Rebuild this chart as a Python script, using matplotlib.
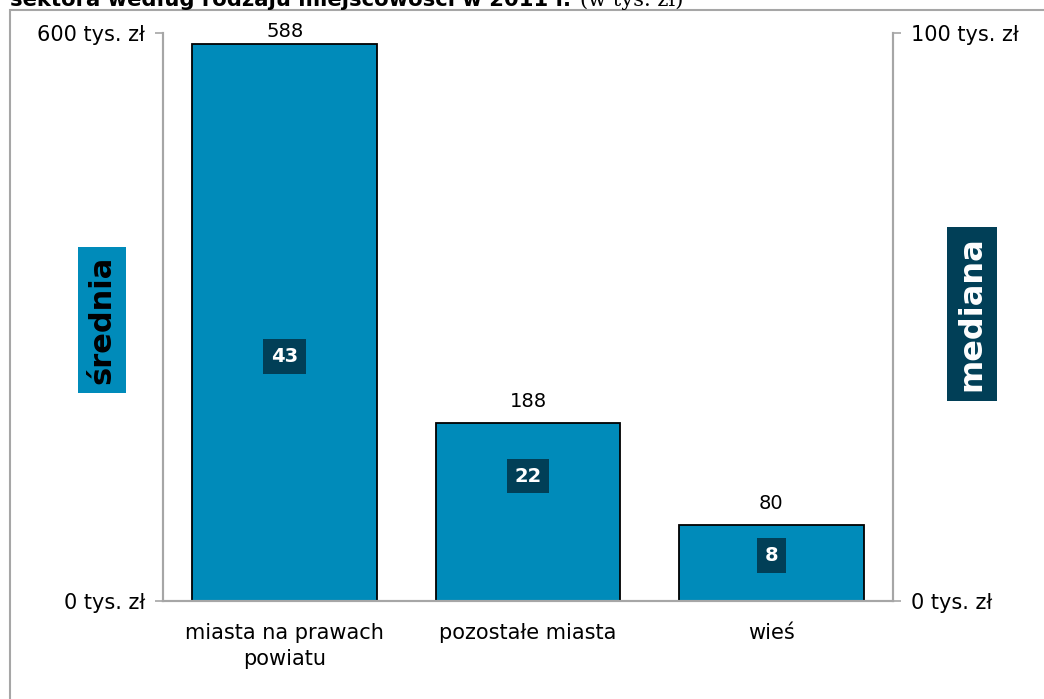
import matplotlib
matplotlib.use('Agg')
import matplotlib.pyplot as plt
from matplotlib.patches import Rectangle

plt.rcParams['font.family'] = ['DejaVu Sans']

# dane
kategorie = ['miasta na prawach\npowiatu', 'pozostałe miasta', 'wieś']
srednia = [588, 188, 80]
mediana = [43, 22, 8]

C_BAR = '#008BBA'
C_DARK = '#013F57'
C_AX = '#A6A6A6'

fig = plt.figure(figsize=(10.44, 6.99), dpi=100)

# ramka wykresu (obcięta u góry po prawej i na dole)
fig.patches.append(Rectangle((10 / 1044, -0.05), 1.2, 1.05 - 10 / 699,
                             transform=fig.transFigure, fill=False,
                             edgecolor=C_AX, linewidth=1.5))

# obcięty tytuł
fig.text(10 / 1044, 1 - 6 / 699, 'sektora według rodzaju miejscowości w 2011 r.',
         fontsize=15.2, fontweight='bold', va='baseline', ha='left')
fig.text(580 / 1044, 1 - 6 / 699, '(w tys. zł)', fontsize=15, family='DejaVu Serif',
         va='baseline', ha='left')

ax = fig.add_axes([163 / 1044, 1 - 601 / 699, 730 / 1044, 568 / 699])
ax2 = ax.twinx()

x = range(len(kategorie))
ax.bar(x, srednia, width=0.76, color=C_BAR, edgecolor='black', linewidth=1.3, zorder=2)
ax.set_ylim(0, 600)
ax.set_xlim(-0.5, 2.5)
ax2.set_ylim(0, 100)

for xi, v in zip(x, srednia):
    ax.text(xi, min(v + 13, 592), str(v), ha='center', va='bottom', fontsize=14)

for xi, m in zip(x, mediana):
    ax2.text(xi, m, str(m), ha='center', va='center', fontsize=14, fontweight='bold',
             color='white',
             bbox=dict(boxstyle='square,pad=0.4', facecolor=C_DARK, edgecolor='none'))

ax.set_yticks([0, 600])
ax.set_yticklabels(['0 tys. zł', '600 tys. zł'])
ax2.set_yticks([0, 100])
ax2.set_yticklabels(['0 tys. zł', '100 tys. zł'])
ax.set_xticks(list(x))
ax.set_xticklabels(kategorie, fontsize=15, linespacing=1.35)
ax.tick_params(axis='x', length=0, pad=16)
ax.tick_params(axis='y', labelsize=15, color=C_AX, length=6, width=1.2, pad=7)
ax2.tick_params(axis='y', labelsize=15, color=C_AX, length=6, width=1.2, pad=7)

for a in (ax, ax2):
    a.spines['top'].set_visible(False)
    for s in ('left', 'right', 'bottom'):
        a.spines[s].set_color(C_AX)
        a.spines[s].set_linewidth(1.5)

# etykiety osi w ramkach
fig.text(102 / 1044, 1 - 320 / 699, 'średnia', rotation=90, ha='center', va='center',
         fontsize=22, fontweight='bold', color='black',
         bbox=dict(boxstyle='square,pad=0.3', facecolor=C_BAR, edgecolor='none'))
fig.text(972 / 1044, 1 - 314 / 699, 'mediana', rotation=90, ha='center', va='center',
         fontsize=23, fontweight='bold', color='white',
         bbox=dict(boxstyle='square,pad=0.3', facecolor=C_DARK, edgecolor='none'))

fig.savefig('out.png', dpi=100, facecolor='white')
